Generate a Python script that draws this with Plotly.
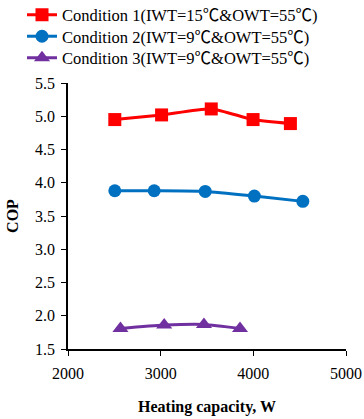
import plotly.graph_objects as go

names = ["Condition 1(IWT=15℃&OWT=55℃)",
         "Condition 2(IWT=9℃&OWT=55℃)",
         "Condition 3(IWT=9℃&OWT=55℃)"]
x1 = [2505, 3010, 3546, 3997, 4400]
y1 = [4.95, 5.02, 5.11, 4.95, 4.89]
x2 = [2505, 2930, 3481, 4011, 4534]
y2 = [3.88, 3.88, 3.87, 3.80, 3.72]
x3 = [2566, 3038, 3467, 3856]
y3 = [1.81, 1.86, 1.87, 1.81]
xticks = [2000, 3000, 4000, 5000]
yticks = [1.5, 2.0, 2.5, 3.0, 3.5, 4.0, 4.5, 5.0, 5.5]

colors = ["#FF0000", "#0070C0", "#7030A0"]
symbols = ["square", "circle", "triangle-up"]
sizes = [13, 13, 14]
legend_ids = ["legend", "legend2", "legend3"]
legend_y = [15, 36.5, 58]  # pixel centres from top

font = "Liberation Serif"
W, H = 364, 419
ml, mr, mt, mb = 68, 18, 83, 70
pw, ph = W - ml - mr, H - mt - mb


def fmt_name(n):
    return n.replace("℃", "<span style=\"font-family:'Noto Sans CJK SC'\">℃</span>")


fig = go.Figure()
for n, xs, ys, c, s, sz, lg in zip(names, [x1, x2, x3], [y1, y2, y3], colors,
                                   symbols, sizes, legend_ids):
    fig.add_trace(go.Scatter(x=xs, y=ys, name=fmt_name(n), mode="lines+markers",
                             legend=lg, showlegend=True,
                             line=dict(color=c, width=3, shape="spline", smoothing=0.6),
                             marker=dict(color=c, symbol=s, size=sz)))

legends = {}
for lg, yc in zip(legend_ids, legend_y):
    legends[lg] = dict(x=(22 - ml) / pw, y=1 + (mt - yc) / ph, yanchor="middle",
                       xanchor="left", bgcolor="rgba(0,0,0,0)", visible=True,
                       font=dict(family=font, size=16.5, color="black"), itemwidth=30)

fig.update_layout(
    width=W, height=H, showlegend=True,
    margin=dict(l=ml, r=mr, t=mt, b=mb, autoexpand=False),
    paper_bgcolor="white", plot_bgcolor="white",
    font=dict(family=font, size=16, color="black"),
    xaxis=dict(range=[2000, 5000], tickvals=xticks, ticktext=[str(v) for v in xticks],
               tickfont=dict(family=font, size=16, color="black"),
               showline=True, linecolor="black", linewidth=1.5, ticks="outside",
               ticklen=5, tickcolor="black", showgrid=False, zeroline=False,
               ticklabelstandoff=4,
               title=dict(text="<b>Heating capacity, W</b>",
                          font=dict(family=font, size=16, color="black"), standoff=20)),
    yaxis=dict(range=[1.5, 5.5], tickvals=yticks, ticktext=[f"{v:.1f}" for v in yticks],
               tickfont=dict(family=font, size=16, color="black"),
               showline=True, linecolor="black", linewidth=1.5, ticks="outside",
               ticklen=5, tickcolor="black", showgrid=False, zeroline=False,
               ticklabelstandoff=3,
               title=dict(text="<b>COP</b>",
                          font=dict(family=font, size=16, color="black"), standoff=12)),
    **legends,
)
fig.write_html("out.html", config={"displayModeBar": False},
               post_script="document.body.style.margin='0';document.body.style.overflow='hidden';")
